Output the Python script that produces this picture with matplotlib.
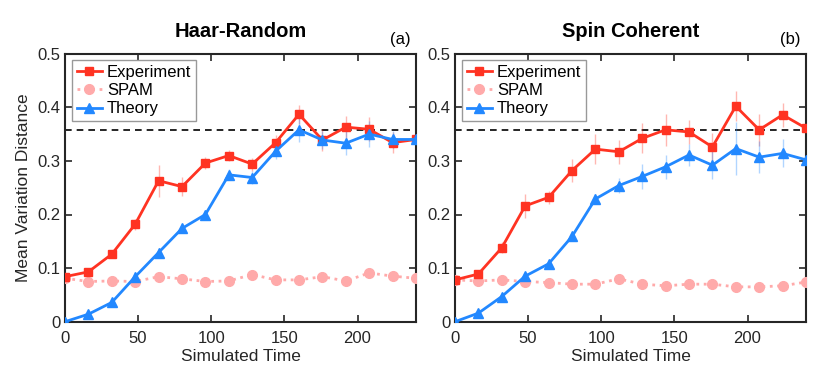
import matplotlib.pyplot as plt

plt.rcParams['font.family'] = ['Liberation Sans', 'DejaVu Sans']

times = [0, 16, 32, 48, 64, 80, 96, 112, 128, 144, 160, 176, 192, 208, 224, 240]

# Haar-Random
haar_exp = [0.084, 0.093, 0.126, 0.182, 0.263, 0.252, 0.296, 0.310, 0.294, 0.334,
            0.387, 0.339, 0.363, 0.359, 0.334, 0.340]
haar_exp_err = [0.004, 0.006, 0.008, 0.010, 0.030, 0.018, 0.012, 0.010, 0.012, 0.014,
                0.018, 0.020, 0.020, 0.022, 0.020, 0.014]
haar_spam = [0.081, 0.075, 0.076, 0.075, 0.084, 0.080, 0.075, 0.076, 0.088, 0.078,
             0.078, 0.084, 0.076, 0.091, 0.085, 0.081]
haar_th = [0.000, 0.014, 0.036, 0.084, 0.129, 0.174, 0.200, 0.274, 0.269, 0.318,
           0.358, 0.339, 0.333, 0.350, 0.340, 0.340]
haar_th_err = [0.002, 0.004, 0.006, 0.008, 0.008, 0.008, 0.008, 0.010, 0.012, 0.014,
               0.022, 0.016, 0.022, 0.024, 0.016, 0.012]

# Spin Coherent
spin_exp = [0.078, 0.089, 0.138, 0.216, 0.232, 0.282, 0.322, 0.317, 0.342, 0.358,
            0.354, 0.326, 0.402, 0.358, 0.386, 0.361]
spin_exp_err = [0.004, 0.006, 0.010, 0.022, 0.012, 0.022, 0.028, 0.022, 0.028, 0.030,
                0.022, 0.026, 0.028, 0.030, 0.022, 0.032]
spin_spam = [0.078, 0.076, 0.078, 0.075, 0.073, 0.070, 0.070, 0.080, 0.070, 0.067,
             0.070, 0.070, 0.065, 0.065, 0.067, 0.074]
spin_th = [0.000, 0.016, 0.047, 0.085, 0.108, 0.159, 0.229, 0.254, 0.271, 0.289,
           0.311, 0.292, 0.323, 0.307, 0.314, 0.302]
spin_th_err = [0.002, 0.004, 0.006, 0.006, 0.008, 0.008, 0.010, 0.014, 0.024, 0.022,
               0.020, 0.026, 0.050, 0.030, 0.026, 0.018]

titles = ['Haar-Random', 'Spin Coherent']
tags = ['(a)', '(b)']
saturation = 0.357

red = '#ff3322'
blue = '#2288ff'
pink = '#ffaaaa'

fig = plt.figure(figsize=(8.30, 3.78), dpi=100)
ax1 = fig.add_axes([65 / 830, 56.3 / 378, 351 / 830, 268 / 378])
ax2 = fig.add_axes([455 / 830, 56.3 / 378, 351 / 830, 268 / 378])

panels = [(ax1, haar_exp, haar_exp_err, haar_spam, haar_th, haar_th_err),
          (ax2, spin_exp, spin_exp_err, spin_spam, spin_th, spin_th_err)]

for i, (ax, exp, exp_err, spam, th, th_err) in enumerate(panels):
    ax.errorbar(times, exp, yerr=exp_err, fmt='none', ecolor=red, alpha=0.35, lw=1, zorder=2)
    ax.errorbar(times, th, yerr=th_err, fmt='none', ecolor=blue, alpha=0.35, lw=1, zorder=2)
    ax.axhline(saturation, color='black', ls=(0, (4, 3)), lw=1.2, zorder=1)
    ax.plot(times, exp, '-s', color=red, ms=6, lw=2, label='Experiment', zorder=4)
    ax.plot(times, spam, ':o', color=pink, ms=7, lw=2, label='SPAM', zorder=3)
    ax.plot(times, th, '-^', color=blue, ms=7, lw=2, label='Theory', zorder=5)

    ax.set_xlim(0, 240)
    ax.set_ylim(0, 0.5)
    ax.set_xticks([0, 50, 100, 150, 200])
    ax.set_yticks([0, 0.1, 0.2, 0.3, 0.4, 0.5])
    ax.set_yticklabels(['0', '0.1', '0.2', '0.3', '0.4', '0.5'])
    ax.tick_params(direction='in', top=True, right=True, labelsize=12, length=5, width=1.2,
                   colors='#262626', labelcolor='#262626')
    ax.tick_params(axis='x', pad=7)
    for s in ax.spines.values():
        s.set_linewidth(1.5)
        s.set_color('#262626')
    ax.set_xlabel('Simulated Time', fontsize=12.5, color='#262626', labelpad=2)
    ax.set_title(titles[i], fontsize=14.5, fontweight='bold', pad=12)
    ax.text(0.985, 1.025, tags[i], transform=ax.transAxes, ha='right', va='bottom', fontsize=12)
    ax.legend(loc='upper left', fontsize=12, handlelength=1.5, borderpad=0.3,
              labelspacing=0.2, handletextpad=0.3, fancybox=False, edgecolor='#999999',
              framealpha=1, bbox_to_anchor=(0.01, 0.99), borderaxespad=0.2)

ax1.set_ylabel('Mean Variation Distance', fontsize=12.5, color='#262626')

fig.savefig('out.png', dpi=100)
